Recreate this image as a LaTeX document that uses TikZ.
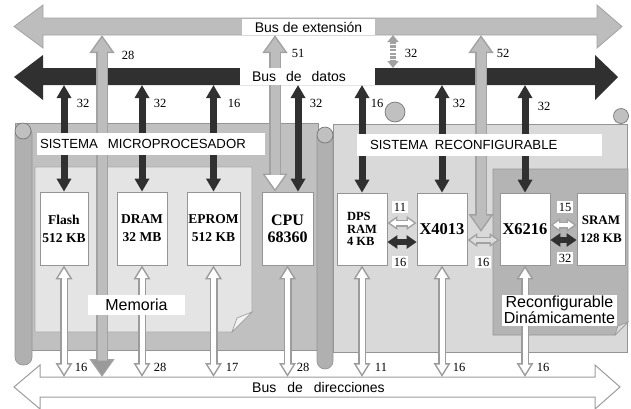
\documentclass[tikz,border=0pt]{standalone}
\usepackage{fontspec}
\setmainfont{Liberation Serif}
\newfontfamily\arialf{Liberation Sans}
\usetikzlibrary{arrows.meta}
\definecolor{extg}{HTML}{BDBDBD}
\definecolor{extgo}{HTML}{A2A2A2}
\definecolor{darkb}{HTML}{303030}
\definecolor{addro}{HTML}{9C9C9C}
\definecolor{lpanel}{HTML}{C0C0C0}
\definecolor{mempage}{HTML}{E4E4E4}
\definecolor{rpanel}{HTML}{D9D9D9}
\definecolor{dynpanel}{HTML}{B4B4B4}
\definecolor{rollc}{HTML}{B0B0B0}
\definecolor{edgec}{HTML}{959595}
\definecolor{hgray}{HTML}{DCDCDC}
\definecolor{darkhead}{HTML}{9A9A9A}
\begin{document}
\begin{tikzpicture}[x=1pt,y=-1pt,
  modbox/.style={draw=edgec, line width=0.7pt, fill=white, inner sep=0pt, align=center, font=\bfseries\fontsize{13.5}{18}\selectfont},
  numlbl/.style={font=\fontsize{12.5}{13}\selectfont, inner sep=1pt},
  numbox/.style={numlbl, fill=white, inner sep=2pt},
  sanslbl/.style={font=\arialf\fontsize{14}{16}\selectfont, fill=white, inner sep=0pt},
  darkv/.style={draw=darkb, line width=7pt, arrows={Triangle[width=14pt,length=13pt]-Triangle[width=14pt,length=13pt]}},
  darkh/.style={draw=darkb, line width=6pt, arrows={Triangle[width=13pt,length=10pt]-Triangle[width=13pt,length=10pt]}},
  addrout/.style={draw=addro, line width=8pt, arrows={Triangle[width=16pt,length=14pt]-Triangle[width=16pt,length=14pt]}},
  addrin/.style={draw=white, line width=5pt, arrows={Triangle[width=10.9pt,length=9.5pt]-Triangle[width=10.9pt,length=9.5pt]}, shorten <=3pt, shorten >=3pt},
  hout/.style={draw=extgo, line width=7pt, arrows={Triangle[width=13pt,length=10pt]-Triangle[width=13pt,length=10pt]}},
  hin/.style={draw=white, line width=4pt, arrows={Triangle[width=7.5pt,length=5.75pt]-Triangle[width=7.5pt,length=5.75pt]}, shorten <=2.75pt, shorten >=2.75pt},
  extout/.style={draw=extgo, line width=12pt, arrows={Triangle[width=24pt,length=18pt]-Triangle[width=24pt,length=18pt]}},
  extin/.style={draw=extg, line width=9pt, arrows={Triangle[width=18.4pt,length=13.8pt]-Triangle[width=18.4pt,length=13.8pt]}, shorten <=2.7pt, shorten >=2.7pt},
  icon/.style={fill=rollc!80!white, draw=edgec!80!black, line width=0.7pt}
]
\useasboundingbox (0,0) rectangle (631,408);
% buses
\path[fill=extg, draw=extgo, line width=0.8pt] (14,26.5) -- (43,5) -- (43,18) -- (597,18) -- (597,5) -- (622,26.5) -- (597,48) -- (597,35) -- (43,35) -- (43,48) -- cycle;
\path[fill=darkb] (14,77) -- (43,55) -- (43,68) -- (595,68) -- (595,55) -- (618,77) -- (595,100) -- (595,85) -- (43,85) -- (43,100) -- cycle;
\path[fill=white, draw=addro, line width=1pt] (14,387) -- (40,365) -- (40,377) -- (595,377) -- (595,365) -- (620,387) -- (595,409) -- (595,397) -- (40,397) -- (40,409) -- cycle;
\coordinate (eb) at (0,35);
\coordinate (dt) at (0,68);
\coordinate (db) at (0,85);
\coordinate (ab) at (0,377);
% panels
\path[fill=lpanel, draw=edgec, line width=0.7pt] (15,123) rectangle (318,350);
\path[fill=rollc, draw=edgec, line width=0.7pt, rounded corners=8pt] (15,126) rectangle (32,365);
\path[icon] (23,131) circle[radius=8];
\path[fill=mempage, draw=edgec!80, line width=0.6pt] (35,167) -- (252,167) -- (252,312) -- (232,332) -- (35,332) -- cycle;
\path[fill=white!90!gray, draw=edgec, line width=0.6pt] (252,312) -- (237,318) -- (232,332) -- cycle;
\path[icon] (395,112) circle[radius=10];
\path[icon] (621,116) circle[radius=7.5];
\path[fill=rpanel, draw=edgec, line width=0.7pt] (333,124) rectangle (627,352);
\path[fill=rollc, draw=edgec, line width=0.7pt, rounded corners=8pt] (317,128) rectangle (333,369);
\path[icon] (325,135) circle[radius=8];
\path[fill=dynpanel, draw=edgec, line width=0.7pt] (493,169) -- (628,169) -- (628,322) -- (615,335) -- (493,335) -- cycle;
\path[fill=hgray, draw=edgec, line width=0.6pt] (628,322) -- (618,326) -- (615,335) -- cycle;
% modules
\node[modbox, minimum width=48pt, minimum height=73pt] (flash) at (64,228.5) {Flash\\512 KB};
\node[modbox, minimum width=50pt, minimum height=73pt] (dram) at (142,228.5) {DRAM\\32 MB};
\node[modbox, minimum width=53pt, minimum height=73pt] (eprom) at (213.5,228.5) {EPROM\\512 KB};
\node[modbox, minimum width=51pt, minimum height=73pt, font=\bfseries\fontsize{16}{17}\selectfont] (cpu) at (287.5,228.5) {CPU\\68360};
\node[modbox, minimum width=50pt, minimum height=72pt, align=left, font=\bfseries\fontsize{12.5}{12.5}\selectfont] (dps) at (362,229) {DPS\\RAM\\4 KB};
\node[modbox, minimum width=50pt, minimum height=72pt, font=\bfseries\fontsize{16.5}{17}\selectfont] (x4013) at (442,229) {X4013};
\node[modbox, minimum width=50pt, minimum height=72pt, font=\bfseries\fontsize{16.5}{17}\selectfont] (x6216) at (525,229) {X6216};
\node[modbox, minimum width=48pt, minimum height=72pt, font=\bfseries\fontsize{13}{18}\selectfont] (sram) at (601,229) {SRAM\\128 KB};
\coordinate (c51) at ([xshift=-12.5pt]cpu.north);
\coordinate (c32) at ([xshift=10.5pt]cpu.north);
\coordinate (x28) at (102,0);
\coordinate (x32e) at (393,0);
\coordinate (j52) at (481,232);
% data bus arrows
\foreach \m in {flash,dram,eprom,dps,x4013,x6216} {\draw[darkv] (\m.north |- db) -- (\m.north);}
\draw[darkv] (c32 |- db) -- (c32);
% address bus arrows
\foreach \m in {flash,dram,eprom,cpu,dps,x4013,x6216} {
  \draw[addrout] (\m.south) -- (\m.south |- ab);
  \draw[addrin] (\m.south) -- (\m.south |- ab);
}
% extension bus arrows
\draw[extout] (x28 |- eb) -- (x28 |- ab);
\draw[extin, arrows={Triangle[width=18.4pt,length=13.8pt]-Triangle[width=18.4pt,length=13.8pt,color=darkhead]}] (x28 |- eb) -- (x28 |- ab);
\draw[extout] (c51 |- eb) -- (c51);
\draw[extin, arrows={Triangle[width=18.4pt,length=13.8pt]-Triangle[width=18.4pt,length=13.8pt,color=white]}] (c51 |- eb) -- (c51);
\draw[extout] (j52 |- eb) -- (j52);
\draw[extin] (j52 |- eb) -- (j52);
\draw[draw=extg!85!black, line width=6pt, dash pattern=on 2.5pt off 1.2pt, arrows={Triangle[width=11pt,length=7pt]-Triangle[width=11pt,length=7pt]}] (x32e |- eb) -- (x32e |- dt);
% module to module arrows
\draw[hout] ([yshift=6pt]dps.east) -- ([yshift=6pt]x4013.west);
\draw[hin] ([yshift=6pt]dps.east) -- ([yshift=6pt]x4013.west);
\draw[darkh] ([yshift=-13pt]dps.east) -- ([yshift=-13pt]x4013.west);
\draw[hout] ([yshift=-11pt]x4013.east) -- ([yshift=-11pt]x6216.west);
\draw[hin, draw=hgray] ([yshift=-11pt]x4013.east) -- ([yshift=-11pt]x6216.west);
\draw[hout] ([yshift=4pt]x6216.east) -- ([yshift=4pt]sram.west);
\draw[hin] ([yshift=4pt]x6216.east) -- ([yshift=4pt]sram.west);
\draw[darkh] ([yshift=-11pt]x6216.east) -- ([yshift=-11pt]sram.west);
% labels
\node[sanslbl, minimum width=133pt, minimum height=16pt] (extlbl) at (308.5,27) {Bus de extensión};
\node[sanslbl, minimum width=135pt, minimum height=17pt, text width=135pt, align=left] (datlbl) at (307.5,76.5) {\hspace*{12pt}Bus\hspace{10pt}de\hspace{10pt}datos};
\node[font=\arialf\fontsize{14}{16}\selectfont, inner sep=0pt] (adrlbl) at (318.5,387.5) {Bus\hspace{11pt}de\hspace{11pt}direcciones};
\node[sanslbl, font=\arialf\fontsize{13.2}{16}\selectfont, minimum width=228pt, minimum height=22pt, text width=228pt, align=left] (smp) at (151,144) {\hspace*{3pt}SISTEMA\hspace{10pt}MICROPROCESADOR};
\node[sanslbl, font=\arialf\fontsize{13.2}{16}\selectfont, minimum width=245pt, minimum height=22pt, text width=245pt, align=left] (srec) at (479.5,144.5) {\hspace*{13pt}\raisebox{-2pt}{SISTEMA\hspace{7pt}RECONFIGURABLE}};
\node[sanslbl, font=\arialf\fontsize{16}{16}\selectfont, minimum width=97pt, minimum height=20pt] (memlbl) at (136.5,305) {Memoria};
\node[sanslbl, font=\arialf\fontsize{16}{15}\selectfont, align=center, minimum width=115pt, minimum height=31pt] (dynlbl) at (559.5,310) {Reconfigurable\\Dinámicamente};
% numbers
\node[numlbl] (e28) at (128,55) {28};
\node[numlbl] (e51) at (298,53) {51};
\node[numlbl] (e32) at (411,53) {32};
\node[numlbl] (e52) at (503,53) {52};
\node[numlbl] (d1) at (83,103) {32};
\node[numlbl] (d2) at (160,103) {32};
\node[numlbl] (d3) at (234,103) {16};
\node[numlbl] (d4) at (316,103) {32};
\node[numlbl] (d5) at (377,103) {16};
\node[numlbl] (d6) at (459,103) {32};
\node[numlbl] (d7) at (544,106) {32};
\node[numlbl] (a1) at (81,367) {16};
\node[numlbl] (a2) at (160,367) {28};
\node[numlbl] (a3) at (232,367) {17};
\node[numlbl] (a4) at (303,367) {28};
\node[numlbl] (a5) at (381,367) {11};
\node[numlbl] (a6) at (459,367) {16};
\node[numlbl] (a7) at (543,367) {16};
\node[numbox] (m1) at (400,207) {11};
\node[numbox] (m2) at (400,262) {16};
\node[numbox] (m3) at (483,262) {16};
\node[numbox] (m4) at (565,207) {15};
\node[numbox] (m5) at (565,258) {32};
\end{tikzpicture}
\end{document}
